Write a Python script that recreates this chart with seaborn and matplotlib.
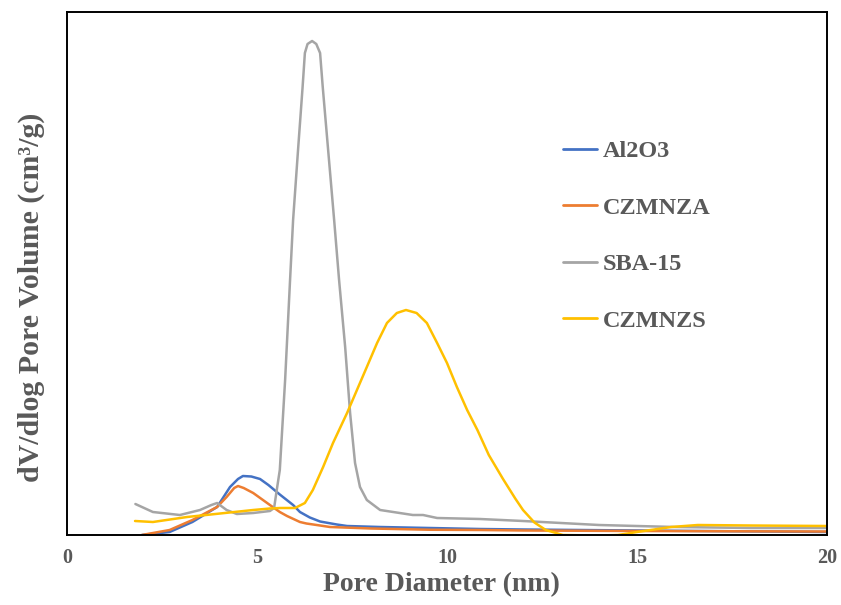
import matplotlib
matplotlib.use("Agg")
import matplotlib.pyplot as plt
import seaborn as sns
import pandas as pd
from matplotlib.lines import Line2D

# ---- data ----
al2o3_x = [1.97, 2.7, 3.3, 3.95, 4.29, 4.5, 4.63, 4.85, 5.08, 5.3, 5.6, 5.95, 6.13, 6.39, 6.66, 7.1, 7.37, 8.24,
           9.55, 10.87, 12.0, 15.0, 20.0]
al2o3_y = [0.0, 0.012, 0.052, 0.112, 0.192, 0.224, 0.236, 0.234, 0.224, 0.200, 0.162, 0.120, 0.092, 0.070, 0.054,
           0.042, 0.036, 0.032, 0.028, 0.024, 0.022, 0.018, 0.012]

czmnza_x = [1.97, 2.7, 3.3, 3.95, 4.2, 4.4, 4.5, 4.65, 4.9, 5.34, 5.6, 5.79, 6.13, 6.3, 6.66, 6.92, 8.0, 9.55,
            10.87, 12.0, 15.0, 20.0]
czmnza_y = [0.0, 0.020, 0.060, 0.112, 0.152, 0.188, 0.196, 0.188, 0.168, 0.120, 0.092, 0.076, 0.052, 0.046, 0.038,
            0.032, 0.026, 0.021, 0.020, 0.018, 0.016, 0.014]

sba15_x = [1.8, 2.26, 2.97, 3.5, 3.8, 3.95, 4.2, 4.47, 4.9, 5.34, 5.45, 5.52, 5.6, 5.74, 5.87, 5.95, 6.08, 6.2,
           6.26, 6.33, 6.45, 6.56, 6.66, 6.73, 7.03, 7.16, 7.32, 7.45, 7.58, 7.71, 7.89, 8.24, 9.1, 9.37, 9.74,
           10.87, 12.0, 13.0, 14.0, 15.0, 16.0, 17.0, 18.0, 20.0]
sba15_y = [0.124, 0.092, 0.080, 0.100, 0.120, 0.128, 0.100, 0.084, 0.088, 0.096, 0.108, 0.180, 0.260, 0.620, 1.020,
           1.260, 1.540, 1.792, 1.928, 1.964, 1.976, 1.964, 1.928, 1.792, 1.260, 1.020, 0.752, 0.488, 0.288, 0.192,
           0.140, 0.100, 0.080, 0.080, 0.068, 0.064, 0.056, 0.048, 0.040, 0.036, 0.032, 0.030, 0.028, 0.028]

czmnzs_x = [1.79, 2.26, 3.16, 4.03, 4.9, 5.34, 5.61, 6.0, 6.26, 6.47, 6.74, 7.0, 7.37, 7.63, 7.89, 8.16, 8.42,
            8.68, 8.92, 9.2, 9.47, 9.74, 10.0, 10.26, 10.53, 10.8, 11.1, 11.47, 11.8, 12.0, 12.3, 12.6, 13.05,
            14.0, 14.5, 15.0, 15.9, 16.6, 18.0, 20.0]
czmnzs_y = [0.056, 0.052, 0.072, 0.086, 0.100, 0.106, 0.108, 0.108, 0.128, 0.180, 0.272, 0.368, 0.488, 0.580,
            0.672, 0.768, 0.848, 0.888, 0.900, 0.888, 0.848, 0.768, 0.688, 0.592, 0.500, 0.420, 0.320, 0.225,
            0.145, 0.100, 0.050, 0.020, 0.0, -0.002, 0.0, 0.012, 0.032, 0.040, 0.038, 0.036]

series_names = ["Al2O3", "CZMNZA", "SBA-15", "CZMNZS"]
series_colors = ["#4472C4", "#ED7D31", "#A5A5A5", "#FFC000"]

x_ticks = [0, 5, 10, 15, 20]
x_label = "Pore Diameter (nm)"
y_label = "dV/dlog Pore Volume (cm³/g)"

# ---- long-form table ----
frames = []
for name, xs, ys in zip(series_names,
                        [al2o3_x, czmnza_x, sba15_x, czmnzs_x],
                        [al2o3_y, czmnza_y, sba15_y, czmnzs_y]):
    frames.append(pd.DataFrame({"x": xs, "y": ys, "series": name}))
df = pd.concat(frames, ignore_index=True)

sns.set_theme(style="white")
plt.rcParams["font.family"] = ["Liberation Serif", "DejaVu Serif"]
text_gray = "#595959"

fig = plt.figure(figsize=(8.41, 6.05), dpi=100)
ax = fig.add_axes([67 / 841, 1 - 535 / 605, (827 - 67) / 841, (535 - 12) / 605])

sns.lineplot(data=df, x="x", y="y", hue="series", hue_order=series_names,
             palette=dict(zip(series_names, series_colors)), sort=False,
             estimator=None, linewidth=1.8, ax=ax, legend=False)
for ln in ax.get_lines():
    ln.set_solid_joinstyle("round")
    ln.set_solid_capstyle("round")

ax.set_xlim(0, 20)
ax.set_ylim(0, 2.092)
ax.set_xticks(x_ticks)
ax.set_xticklabels([str(t) for t in x_ticks])
ax.set_yticks([])
ax.tick_params(axis="x", length=0, pad=9.5, labelsize=14.5, labelcolor=text_gray)
for lbl in ax.get_xticklabels():
    lbl.set_fontweight("bold")
ax.set_xlabel(x_label, fontsize=20, fontweight="bold", color=text_gray)
ax.set_ylabel(y_label, fontsize=21.5, fontweight="bold", color=text_gray)
ax.xaxis.set_label_coords((441 - 67) / 760, (535 - 572) / 523)
ax.yaxis.set_label_coords((45 - 67) / 760, (535 - 297) / 523)

for sp in ax.spines.values():
    sp.set_visible(True)
    sp.set_color("black")
    sp.set_linewidth(1.4)

handles = [Line2D([0], [0], color=c, linewidth=2.0) for c in series_colors]
leg = ax.legend(handles, series_names, loc="upper left",
                bbox_to_anchor=(563 / 841, 1 - 140 / 605), bbox_transform=fig.transFigure,
                frameon=False, fontsize=17.5, handlelength=1.4, handletextpad=0.25,
                labelspacing=1.42, borderpad=0, borderaxespad=0)
for t in leg.get_texts():
    t.set_color(text_gray)
    t.set_fontweight("bold")

fig.savefig("out.png", dpi=100)
